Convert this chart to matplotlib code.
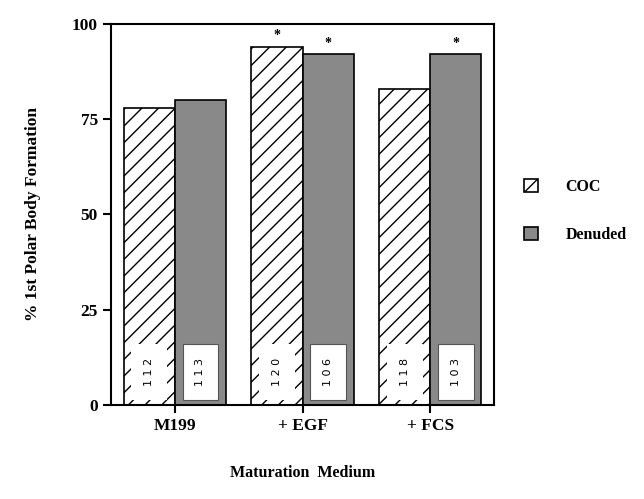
import numpy as np
import matplotlib
matplotlib.use("Agg")
import matplotlib.pyplot as plt
from matplotlib.patches import Rectangle

# data
media = ["M199", "+ EGF", "+ FCS"]
coc = [78, 94, 83]
denuded = [80, 92, 92]
n_coc = [112, 120, 118]
n_den = [113, 106, 103]
coc_star = [False, True, False]
den_star = [False, True, True]

plt.rcParams["font.family"] = ["Liberation Serif", "DejaVu Serif"]
plt.rcParams["font.weight"] = "bold"
plt.rcParams["axes.labelweight"] = "bold"
plt.rcParams["hatch.linewidth"] = 1.0

fig = plt.figure(figsize=(6.44, 4.99), dpi=100)
ax = fig.add_axes([0.1724, 0.1884, 0.5947, 0.7635])

x = np.arange(len(media))
w = 0.4
grey = "#898989"

ax.bar(x - w / 2, coc, w, facecolor="white", edgecolor="black",
       hatch="//", linewidth=1.2, label="COC")
ax.bar(x + w / 2, denuded, w, facecolor=grey, edgecolor="black",
       linewidth=1.2, label="Denuded")

# white boxes with n counts at the bottom of each bar
inset = 0.06
for i in range(len(media)):
    for xc, n, edge in [(x[i] - w / 2, n_coc[i], False), (x[i] + w / 2, n_den[i], True)]:
        r = Rectangle((xc - w / 2 + inset, 1.4), w - 2 * inset, 14.5,
                      facecolor="white", edgecolor="#555555" if edge else "none",
                      linewidth=0.8, zorder=3)
        ax.add_patch(r)
        ax.text(xc, 8.6, " ".join(str(n)), rotation=90, ha="center", va="center",
                fontsize=8, family="DejaVu Sans", fontweight="normal", zorder=4)

for i in range(len(media)):
    if coc_star[i]:
        ax.text(x[i] - w / 2, coc[i] + 1.2, "*", ha="center", va="bottom", fontsize=10)
    if den_star[i]:
        ax.text(x[i] + w / 2, denuded[i] + 1.2, "*", ha="center", va="bottom", fontsize=10)

ax.set_xlim(-0.5, 2.5)
ax.set_ylim(0, 100)
ax.set_yticks([0, 25, 50, 75, 100])
ax.set_xticks(x)
ax.set_xticklabels(media)
ax.tick_params(axis="both", direction="out", length=6, width=1.5, labelsize=12.5)
for s in ax.spines.values():
    s.set_linewidth(1.5)

ax.set_ylabel("% 1st Polar Body Formation", fontsize=12.5, labelpad=22)
ax.set_xlabel("Maturation  Medium", fontsize=11.5, labelpad=22)

ax.legend(loc="center left", bbox_to_anchor=(1.04, 0.51), frameon=False,
          handlelength=0.9, handleheight=0.9, labelspacing=2.0, handletextpad=1.7,
          fontsize=11.5)

fig.savefig("out.png", dpi=100)
